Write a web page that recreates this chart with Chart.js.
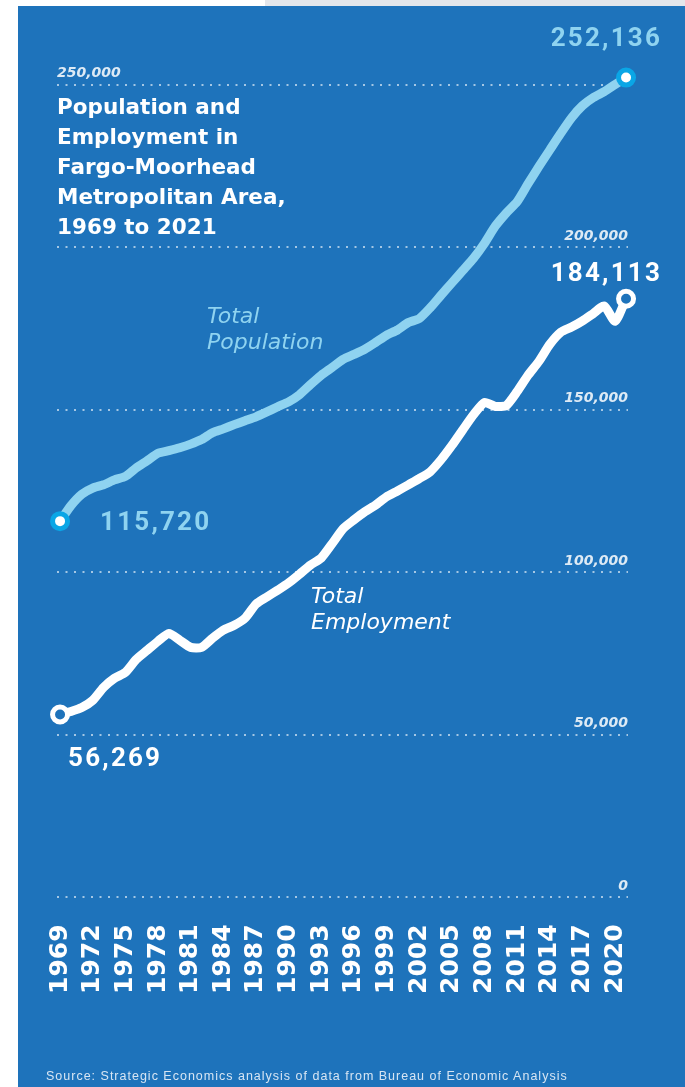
<!DOCTYPE html>
<html>
<head>
<meta charset="utf-8">
<script src="https://cdn.jsdelivr.net/npm/chart.js@4.4.1/dist/chart.umd.min.js"></script>
<style>
  html, body { margin: 0; padding: 0; width: 685px; height: 1087px; overflow: hidden; background: #fff; }
  #topbar { position: absolute; left: 265px; top: 0; width: 420px; height: 7px; background: #e3e6eb; }
  #panel { position: absolute; left: 18px; top: 6px; right: 0; bottom: 0; background: #1e73bb; }
  #c { position: absolute; left: 0; top: 0; }
  .title { position: absolute; left: 57px; top: 92px; color: #fff; font: bold 21.5px/30px "DejaVu Sans", sans-serif; }
  .series { position: absolute; font: oblique 22px/26px "DejaVu Sans", sans-serif; }
  .source { position: absolute; left: 46px; top: 1069px; color: rgba(235,242,250,0.9); letter-spacing: 1px; font: 12.5px "Liberation Sans", sans-serif; }
</style>
</head>
<body>
<div id="topbar"></div>
<div id="panel"></div>
<canvas id="c" width="685" height="1087"></canvas>
<div class="title">Population and<br>Employment in<br>Fargo-Moorhead<br>Metropolitan Area,<br>1969 to 2021</div>
<div class="series" style="left:207px;top:303px;color:#8fd3f0;">Total<br>Population</div>
<div class="series" style="left:311px;top:583px;color:#fff;">Total<br>Employment</div>
<div class="source">Source: Strategic Economics analysis of data from Bureau of Economic Analysis</div>
<script>
const years = [1969, 1970, 1971, 1972, 1973, 1974, 1975, 1976, 1977, 1978, 1979,
  1980, 1981, 1982, 1983, 1984, 1985, 1986, 1987, 1988, 1989,
  1990, 1991, 1992, 1993, 1994, 1995, 1996, 1997, 1998, 1999,
  2000, 2001, 2002, 2003, 2004, 2005, 2006, 2007, 2008, 2009,
  2010, 2011, 2012, 2013, 2014, 2015, 2016, 2017, 2018, 2019,
  2020, 2021];

const population = [115720, 120500, 124000, 125900, 126900, 128400, 129500, 132100, 134300, 136600, 137400,
  138300, 139400, 140800, 142900, 144100, 145400, 146600, 147800, 149300, 150900,
  152400, 154600, 157700, 160600, 163000, 165500, 167000, 168600, 170700, 172900,
  174500, 176800, 178000, 181300, 185200, 189000, 192800, 196600, 201200, 206500,
  210500, 214000, 219500, 224800, 229900, 235000, 239800, 243500, 246000, 247800,
  250000, 252136];

const employment = [56269, 57200, 58400, 60600, 64600, 67400, 69200, 73200, 76000, 78800, 81200,
  79100, 76900, 76900, 79700, 82200, 83700, 85900, 90200, 92400, 94500,
  96700, 99400, 102200, 104400, 108800, 113400, 116100, 118600, 120700, 123200,
  125000, 126900, 128800, 130900, 134600, 139000, 143800, 148500, 152200, 151000,
  151300, 155600, 160600, 164900, 170100, 173800, 175400, 177300, 179600, 181900,
  177200, 184113];

const xTicks = [1969, 1972, 1975, 1978, 1981, 1984, 1987, 1990, 1993, 1996, 1999, 2002, 2005, 2008, 2011, 2014, 2017, 2020];
const yTicks = [0, 50000, 100000, 150000, 200000, 250000];

const BLUE = '#1e73bb';
const LIGHT = '#8fd3f0';

const toPoints = vals => vals.map((v, i) => ({ x: years[i], y: v }));
const endRadius = ctx => (ctx.dataIndex === 0 || ctx.dataIndex === years.length - 1) ? 7.5 : 0;

// value labels next to the first and last point of each line
const endLabels = {
  id: 'endLabels',
  afterDatasetsDraw(chart) {
    const ctx = chart.ctx;
    chart.data.datasets.forEach((ds, i) => {
      const meta = chart.getDatasetMeta(i);
      (ds.endLabels || []).forEach(l => {
        const pt = meta.data[l.index];
        const v = ds.data[l.index].y;
        ctx.save();
        ctx.font = 'bold 26px Roboto, sans-serif';
        ctx.letterSpacing = '2.2px';
        ctx.fillStyle = ds.labelColor;
        ctx.textAlign = l.align;
        ctx.textBaseline = 'middle';
        ctx.fillText(v.toLocaleString('en-US'), pt.x + l.dx, pt.y + l.dy);
        ctx.restore();
      });
    });
  }
};

const setYTicks = scale => { scale.ticks = yTicks.map(v => ({ value: v })); };
const tickFont = { family: 'DejaVu Sans', size: 14, style: 'italic', weight: 'bold' };

new Chart(document.getElementById('c'), {
  type: 'line',
  plugins: [endLabels],
  data: {
    datasets: [
      {
        label: 'Total Population',
        data: toPoints(population),
        borderColor: LIGHT,
        borderWidth: 9,
        tension: 0.2,
        clip: false,
        pointRadius: endRadius,
        pointBorderWidth: 5,
        pointBackgroundColor: '#fff',
        pointBorderColor: '#0aa6e6',
        labelColor: LIGHT,
        endLabels: [
          { index: 0, dx: 40, dy: 2, align: 'left' },
          { index: years.length - 1, dx: 36, dy: -38, align: 'right' }
        ]
      },
      {
        label: 'Total Employment',
        data: toPoints(employment),
        borderColor: '#fff',
        borderWidth: 9,
        tension: 0.2,
        clip: false,
        pointRadius: endRadius,
        pointBorderWidth: 5,
        pointBackgroundColor: BLUE,
        pointBorderColor: '#fff',
        labelColor: '#fff',
        endLabels: [
          { index: 0, dx: 8, dy: 45, align: 'left' },
          { index: years.length - 1, dx: 36, dy: -24, align: 'right' }
        ]
      }
    ]
  },
  options: {
    responsive: false,
    devicePixelRatio: 1,
    animation: false,
    layout: { padding: { left: 57, right: 57, top: 52, bottom: 66 } },
    plugins: { legend: { display: false }, tooltip: { enabled: false } },
    scales: {
      x: {
        type: 'linear',
        min: 1968.72,
        max: 2021.18,
        afterBuildTicks: scale => { scale.ticks = xTicks.map(v => ({ value: v })); },
        grid: { display: false, drawTicks: false },
        border: { display: false },
        ticks: {
          autoSkip: false,
          minRotation: 90,
          maxRotation: 90,
          padding: 27,
          color: '#fff',
          font: { family: 'DejaVu Sans', size: 25, weight: 'bold' },
          callback: v => String(v)
        }
      },
      y: {
        position: 'right',
        min: 0,
        max: 260000,
        afterBuildTicks: setYTicks,
        grid: {
          color: 'rgba(255,255,255,0.6)',
          lineWidth: 2,
          drawTicks: false
        },
        border: { display: false, dash: [2, 6.5] },
        ticks: {
          mirror: true,
          padding: 0,
          labelOffset: -11,
          color: 'rgba(255,255,255,0.85)',
          font: tickFont,
          callback: v => v === 250000 ? '' : v.toLocaleString('en-US')
        }
      },
      y2: {
        position: 'left',
        min: 0,
        max: 260000,
        afterBuildTicks: setYTicks,
        grid: { display: false, drawTicks: false },
        border: { display: false },
        ticks: {
          mirror: true,
          padding: 0,
          labelOffset: -11,
          color: 'rgba(255,255,255,0.85)',
          font: tickFont,
          callback: v => v === 250000 ? v.toLocaleString('en-US') : ''
        }
      }
    }
  }
});
</script>
</body>
</html>
